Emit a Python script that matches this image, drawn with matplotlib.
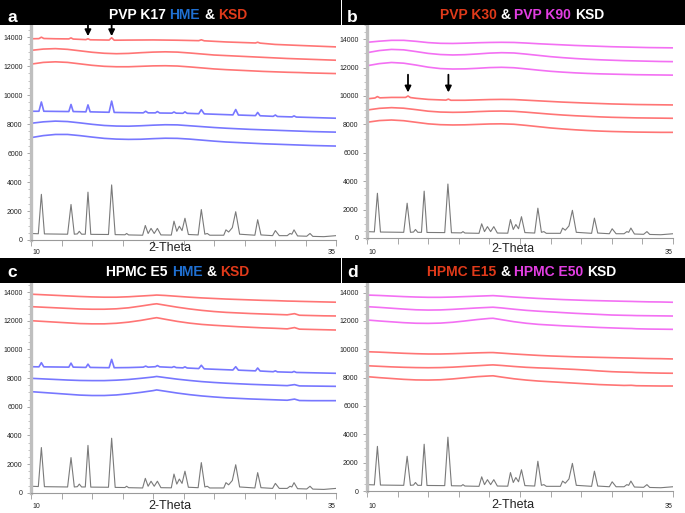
import matplotlib
matplotlib.use("Agg")
import matplotlib.pyplot as plt
from matplotlib.patches import Rectangle
from matplotlib.ticker import MultipleLocator

plt.rcParams['font.family'] = ['Liberation Sans', 'DejaVu Sans']

# ---------------- data ----------------
# crystalline reference pattern (gray, bottom of every panel)
theta_ref = [10.0, 10.6, 10.85, 11.1, 13.0, 13.28, 13.55, 13.8, 13.96, 14.15, 14.45, 14.67, 14.9,
             16.35, 16.61, 16.9, 17.7, 17.84, 18.0, 19.15, 19.37, 19.6, 19.84, 20.1, 20.36, 20.65,
             21.5, 21.72, 21.95, 22.16, 22.38, 22.62, 22.9, 23.7, 23.96, 24.25, 24.45, 24.65,
             25.8, 25.98, 26.2, 26.5, 26.78, 27.1, 28.35, 28.58, 28.85, 29.8, 30.03, 30.35,
             31.0, 31.23, 31.38, 31.56, 31.85, 32.6, 32.87, 33.1, 34.0, 35.0]
int_ref = [450, 430, 3150, 420, 400, 2450, 400, 420, 600, 400, 400, 3300, 390,
           380, 3800, 370, 360, 450, 350, 330, 1000, 450, 800, 450, 800, 350,
           340, 1300, 600, 950, 650, 1500, 380, 350, 2100, 400, 450, 330,
           330, 700, 550, 850, 1950, 400, 330, 1400, 350, 300, 650, 300,
           300, 450, 400, 700, 280, 260, 450, 250, 230, 300]

grid_ab = [10, 11, 12, 13, 14, 15, 16, 17, 18, 19, 20, 21, 22, 23, 24, 25, 26, 27, 28, 29, 30,
           31, 32, 33, 34, 35]
grid_cd = [10, 11, 12, 13, 14, 15, 16, 17, 18, 19, 20, 20.3, 21, 22, 23, 24, 25, 26, 27, 28, 29,
           30, 31, 31.6, 32, 33, 34, 35]

# panel a: PVP K17
theta_a_ksd_top = [10.0, 10.65, 10.85, 11.05, 12.0, 13.1, 13.28, 13.46, 14.5, 14.67, 14.85,
                   16.4, 16.61, 16.82, 18.0, 20.0, 22.0, 23.75, 23.96, 24.2, 26.0, 28.4, 28.58,
                   28.78, 30.0, 32.0, 35.0]
a_ksd_top = [13880, 13890, 13990, 13900, 13880, 13870, 13940, 13860, 13820, 13880, 13810,
             13790, 13950, 13780, 13790, 13800, 13780, 13750, 13810, 13740, 13660, 13590, 13640,
             13580, 13490, 13420, 13320]
a_ksd_mid = [13080, 13170, 13200, 13150, 13050, 12950, 12880, 12850, 12870, 12920, 12960, 12980,
             12960, 12900, 12830, 12760, 12720, 12680, 12640, 12600, 12560, 12520, 12490, 12460,
             12430, 12400]
a_ksd_bot = [12130, 12250, 12290, 12250, 12150, 12050, 11980, 11950, 11950, 11980, 12010, 12020,
             12000, 11940, 11870, 11800, 11750, 11710, 11670, 11630, 11600, 11570, 11550, 11520,
             11500, 11480]
theta_a_hme_top = [10.0, 10.65, 10.85, 11.05, 13.1, 13.28, 13.46, 14.5, 14.67, 14.85, 16.4, 16.61,
                   16.82, 19.2, 19.4, 19.6, 20.2, 20.36, 20.55, 21.55, 21.72, 21.9, 22.45, 22.62,
                   22.8, 23.75, 23.96, 24.2, 26.55, 26.78, 27.0, 28.4, 28.58, 28.78, 29.85, 30.03,
                   30.2, 31.4, 31.56, 31.75, 35.0]
a_hme_top = [8880, 8880, 9520, 8880, 8860, 9350, 8860, 8840, 9320, 8840, 8810, 9580,
             8800, 8770, 8880, 8770, 8770, 8860, 8760, 8750, 8830, 8750, 8740, 8840,
             8740, 8710, 8990, 8700, 8630, 9000, 8620, 8580, 8800, 8570, 8530, 8620,
             8520, 8490, 8560, 8480, 8400]
a_hme_mid = [8050, 8150, 8200, 8170, 8080, 7980, 7900, 7860, 7850, 7880, 7920, 7950, 7940, 7880,
             7820, 7760, 7710, 7670, 7630, 7600, 7570, 7540, 7510, 7480, 7460, 7440]
a_hme_bot = [7060, 7200, 7280, 7280, 7200, 7100, 7010, 6960, 6940, 6950, 6990, 7020, 7010, 6960,
             6890, 6820, 6760, 6720, 6680, 6640, 6610, 6580, 6550, 6520, 6500, 6480]

# panel b: PVP K30 (red) & PVP K90 (magenta) KSD
b_k90_top = [13780, 13860, 13920, 13920, 13850, 13760, 13710, 13700, 13720, 13750, 13770, 13780,
             13770, 13730, 13680, 13640, 13600, 13560, 13530, 13500, 13470, 13450, 13430, 13410,
             13400, 13390]
b_k90_mid = [13050, 13200, 13280, 13250, 13130, 13000, 12920, 12890, 12910, 12960, 13020, 13050,
             13030, 12950, 12860, 12770, 12700, 12640, 12590, 12550, 12520, 12490, 12470, 12450,
             12430, 12420]
b_k90_bot = [12130, 12280, 12360, 12310, 12180, 12030, 11930, 11900, 11910, 11950, 12000, 12020,
             11990, 11910, 11820, 11740, 11680, 11630, 11590, 11560, 11540, 11520, 11500, 11490,
             11480, 11470]
theta_b_k30_top = [10.0, 10.65, 10.85, 11.05, 12.0, 13.15, 13.35, 13.55, 14.0, 15.0, 16.45, 16.65,
                   16.85, 18.0, 20.0, 21.0, 22.0, 24.0, 26.0, 28.0, 30.0, 32.0, 35.0]
b_k30_top = [9800, 9860, 9960, 9870, 9900, 9900, 10000, 9890, 9840, 9760, 9710, 9780,
             9700, 9700, 9750, 9760, 9750, 9660, 9570, 9500, 9440, 9400, 9370]
b_k30_mid = [9010, 9130, 9180, 9140, 9040, 8930, 8870, 8850, 8860, 8900, 8930, 8940, 8920, 8860,
             8790, 8720, 8660, 8610, 8570, 8530, 8500, 8480, 8460, 8450, 8440, 8430]
b_k30_bot = [8150, 8270, 8310, 8260, 8150, 8040, 7980, 7960, 7970, 8000, 8030, 8040, 8010, 7930,
             7840, 7750, 7680, 7620, 7570, 7530, 7500, 7480, 7460, 7450, 7440, 7440]

# panel c: HPMC E5
c_ksd_top = [13850, 13810, 13770, 13730, 13690, 13660, 13640, 13640, 13670, 13720, 13770, 13790,
             13760, 13700, 13640, 13590, 13550, 13510, 13480, 13450, 13420, 13400, 13370, 13360,
             13350, 13330, 13310, 13290]
c_ksd_mid = [12980, 12940, 12900, 12860, 12820, 12800, 12800, 12830, 12900, 13020, 13150, 13180,
             13080, 12940, 12820, 12720, 12640, 12580, 12540, 12500, 12470, 12440, 12410, 12490,
             12380, 12360, 12340, 12330]
c_ksd_bot = [12000, 11950, 11900, 11850, 11800, 11780, 11780, 11820, 11900, 12020, 12170, 12210,
             12100, 11950, 11830, 11740, 11680, 11630, 11580, 11540, 11500, 11470, 11430, 11520,
             11410, 11390, 11370, 11350]
theta_c_hme_top = [10.0, 10.65, 10.85, 11.05, 13.1, 13.28, 13.46, 14.5, 14.67, 14.85, 16.4, 16.61,
                   16.82, 18.0, 19.2, 19.4, 19.6, 20.2, 20.36, 20.55, 21.55, 21.72, 21.9, 22.45,
                   22.62, 22.8, 23.75, 23.96, 24.2, 26.55, 26.78, 27.0, 28.4, 28.58, 28.78, 29.85,
                   30.03, 30.2, 31.4, 31.56, 31.75, 35.0]
c_hme_top = [8790, 8780, 9070, 8780, 8760, 9040, 8760, 8740, 8970, 8740, 8720, 9300,
             8720, 8730, 8760, 8830, 8760, 8790, 8870, 8780, 8740, 8800, 8730, 8710,
             8780, 8700, 8660, 8890, 8640, 8560, 8790, 8550, 8500, 8700, 8490, 8440,
             8500, 8430, 8400, 8460, 8390, 8330]
c_hme_mid = [7980, 7940, 7900, 7860, 7830, 7820, 7820, 7850, 7900, 7980, 8070, 8110, 8030, 7920,
             7830, 7750, 7690, 7640, 7600, 7560, 7530, 7500, 7470, 7540, 7450, 7440, 7430, 7420]
c_hme_bot = [7050, 6990, 6930, 6870, 6810, 6780, 6780, 6820, 6900, 7000, 7120, 7170, 7080, 6950,
             6840, 6750, 6680, 6620, 6580, 6540, 6510, 6480, 6450, 6530, 6430, 6420, 6420, 6420]

# panel d: HPMC E15 (red) & HPMC E50 (magenta) KSD
d_e50_top = [13830, 13800, 13760, 13720, 13690, 13670, 13670, 13690, 13720, 13750, 13780, 13790,
             13750, 13690, 13640, 13590, 13550, 13510, 13480, 13450, 13430, 13410, 13390, 13380,
             13370, 13350, 13340, 13320]
d_e50_mid = [13010, 12960, 12900, 12840, 12790, 12770, 12780, 12820, 12870, 12920, 12960, 12970,
             12920, 12830, 12750, 12690, 12640, 12590, 12540, 12500, 12460, 12420, 12400, 12390,
             12380, 12370, 12360, 12350]
d_e50_bot = [12070, 12000, 11940, 11880, 11840, 11830, 11850, 11910, 12000, 12100, 12180, 12190,
             12090, 11950, 11840, 11760, 11710, 11660, 11620, 11580, 11540, 11510, 11480, 11470,
             11450, 11430, 11420, 11410]
d_e15_top = [9830, 9800, 9760, 9720, 9690, 9670, 9670, 9690, 9720, 9750, 9770, 9770, 9730, 9670,
             9620, 9570, 9530, 9500, 9470, 9450, 9430, 9410, 9390, 9380, 9370, 9350, 9340, 9320]
d_e15_mid = [8840, 8800, 8760, 8730, 8710, 8700, 8710, 8740, 8790, 8840, 8890, 8900, 8860, 8790,
             8730, 8690, 8660, 8620, 8580, 8530, 8470, 8420, 8390, 8380, 8360, 8340, 8320, 8310]
d_e15_bot = [8070, 8000, 7940, 7880, 7840, 7830, 7850, 7910, 7990, 8070, 8120, 8130, 8040, 7920,
             7830, 7760, 7710, 7660, 7610, 7560, 7510, 7480, 7450, 7460, 7430, 7420, 7410, 7410]

arrows_a = [14.67, 16.61]
arrows_b = [13.35, 16.65]

# ---------------- styling ----------------
W, H = 685, 513
RED = '#ff5252'
BLUE = '#5555ff'
MAG = '#f04cf0'
GRAY = '#7a7a7a'
T_WHITE = '#ffffff'
T_BLUE = '#1f6fd1'
T_RED = '#e03a1a'
T_MAG = '#e23ee2'

fig = plt.figure(figsize=(W / 100, H / 100), dpi=100)


def fx(x):
    return x / W


def fy(y):
    return 1 - y / H


def make_axes(left, right, top, bottom, ytop):
    ax = fig.add_axes([fx(left), fy(bottom), (right - left) / W, (bottom - top) / H])
    ax.set_xlim(10, 35)
    ax.set_ylim(0, ytop)
    for s in ('top', 'right'):
        ax.spines[s].set_visible(False)
    ax.spines['left'].set_color('#bfbfbf')
    ax.spines['left'].set_linewidth(2.4)
    ax.spines['bottom'].set_color('#9a9a9a')
    ax.spines['bottom'].set_linewidth(0.8)
    ax.yaxis.set_major_locator(MultipleLocator(2000))
    ax.yaxis.set_minor_locator(MultipleLocator(500))
    ax.xaxis.set_major_locator(MultipleLocator(2.5))
    ax.tick_params(axis='y', which='major', length=3, width=0.6, color='#999999',
                   labelsize=5, labelcolor='#222222', pad=3)
    ax.tick_params(axis='y', which='minor', length=2, width=0.5, color='#aaaaaa')
    ax.tick_params(axis='x', which='major', length=4, width=0.6, color='#999999',
                   labelbottom=False)
    ax.set_facecolor('none')
    return ax


def trace(ax, x, y, color, lw=1.2, alpha=0.8):
    ax.plot(x, y, color=color, lw=lw, alpha=alpha, solid_joinstyle='round')


def colored_title(pieces, cx, base_y, size=10):
    renderer = fig.canvas.get_renderer()
    objs = []
    for s, c in pieces:
        t = fig.text(0, fy(base_y), s, color=c, fontsize=size, fontweight='bold',
                     ha='left', va='baseline')
        objs.append(t)
    sp = fig.text(0, 0, 'a a', fontsize=size, fontweight='bold')
    sp2 = fig.text(0, 0, 'aa', fontsize=size, fontweight='bold')
    gap = sp.get_window_extent(renderer).width - sp2.get_window_extent(renderer).width
    sp.remove()
    sp2.remove()
    widths = [o.get_window_extent(renderer).width for o in objs]
    total = sum(widths) + gap * (len(objs) - 1)
    x = cx - total / 2
    for o, w in zip(objs, widths):
        o.set_x(fx(x))
        x += w + gap


def bar(x0, x1, y0, y1):
    fig.patches.append(Rectangle((fx(x0), fy(y1)), (x1 - x0) / W, (y1 - y0) / H,
                                 transform=fig.transFigure, facecolor='black',
                                 edgecolor='none', zorder=0))


def x_labels(left, right, axis_y, cx, off_lbl, off_title):
    fig.text(fx(left + 1), fy(axis_y + off_lbl), '10', fontsize=5, color='#222222',
             ha='left', va='center')
    fig.text(fx(right), fy(axis_y + off_lbl), '35', fontsize=5, color='#222222',
             ha='right', va='center')
    fig.text(fx(cx), fy(axis_y + off_title), '2-Theta', fontsize=9, color='#222222',
             ha='center', va='center')


# title bars
bar(0, 341, 0, 25)
bar(342, 685, 0, 25)
bar(0, 341, 258, 283)
bar(342, 685, 258, 283)

# ---- panel a ----
axa = make_axes(31, 336, 25, 240, 14830)
trace(axa, theta_a_ksd_top, a_ksd_top, RED)
trace(axa, grid_ab, a_ksd_mid, RED)
trace(axa, grid_ab, a_ksd_bot, RED)
trace(axa, theta_a_hme_top, a_hme_top, BLUE)
trace(axa, grid_ab, a_hme_mid, BLUE)
trace(axa, grid_ab, a_hme_bot, BLUE)
trace(axa, theta_ref, int_ref, GRAY, lw=0.8, alpha=1.0)
for t in arrows_a:
    axa.annotate('', xy=(t, 14060), xytext=(t, 14830), annotation_clip=False,
                 arrowprops=dict(arrowstyle='-|>', color='black', lw=1.3, mutation_scale=9,
                                 shrinkA=0, shrinkB=0))
x_labels(31, 336, 240, 170, 13, 8)

# ---- panel b ----
axb = make_axes(367, 673, 25, 238, 15000)
trace(axb, grid_ab, b_k90_top, MAG)
trace(axb, grid_ab, b_k90_mid, MAG)
trace(axb, grid_ab, b_k90_bot, MAG)
trace(axb, theta_b_k30_top, b_k30_top, RED)
trace(axb, grid_ab, b_k30_mid, RED)
trace(axb, grid_ab, b_k30_bot, RED)
trace(axb, theta_ref, int_ref, GRAY, lw=0.8, alpha=1.0)
for t in arrows_b:
    axb.annotate('', xy=(t, 10250), xytext=(t, 11500), annotation_clip=False,
                 arrowprops=dict(arrowstyle='-|>', color='black', lw=1.3, mutation_scale=9,
                                 shrinkA=0, shrinkB=0))
x_labels(367, 673, 238, 513, 15, 11)

# ---- panel c ----
axc = make_axes(31, 336, 283, 492.7, 14630)
trace(axc, grid_cd, c_ksd_top, RED)
trace(axc, grid_cd, c_ksd_mid, RED)
trace(axc, grid_cd, c_ksd_bot, RED)
trace(axc, theta_c_hme_top, c_hme_top, BLUE)
trace(axc, grid_cd, c_hme_mid, BLUE)
trace(axc, grid_cd, c_hme_bot, BLUE)
trace(axc, theta_ref, int_ref, GRAY, lw=0.8, alpha=1.0)
x_labels(31, 336, 492.7, 170, 14, 13)

# ---- panel d ----
axd = make_axes(367, 673, 283, 491, 14680)
trace(axd, grid_cd, d_e50_top, MAG)
trace(axd, grid_cd, d_e50_mid, MAG)
trace(axd, grid_cd, d_e50_bot, MAG)
trace(axd, grid_cd, d_e15_top, RED)
trace(axd, grid_cd, d_e15_mid, RED)
trace(axd, grid_cd, d_e15_bot, RED)
trace(axd, theta_ref, int_ref, GRAY, lw=0.8, alpha=1.0)
x_labels(367, 673, 491, 513, 15, 14)

# panel letters
for letter, x, y in (('a', 7, 21.5), ('b', 347, 21.5), ('c', 7, 277), ('d', 347, 277)):
    fig.text(fx(x), fy(y), letter, color='white', fontsize=12.5, fontweight='bold',
             ha='left', va='baseline')

# titles
colored_title([('PVP K17', T_WHITE), ('HME', T_BLUE), ('&', T_WHITE), ('KSD', T_RED)], 178, 19)
colored_title([('PVP K30', T_RED), ('&', T_WHITE), ('PVP K90', T_MAG), ('KSD', T_WHITE)], 522, 19)
colored_title([('HPMC E5', T_WHITE), ('HME', T_BLUE), ('&', T_WHITE), ('KSD', T_RED)], 178, 276)
colored_title([('HPMC E15', T_RED), ('&', T_WHITE), ('HPMC E50', T_MAG), ('KSD', T_WHITE)], 522, 276)

fig.savefig('out.png', dpi=100)
